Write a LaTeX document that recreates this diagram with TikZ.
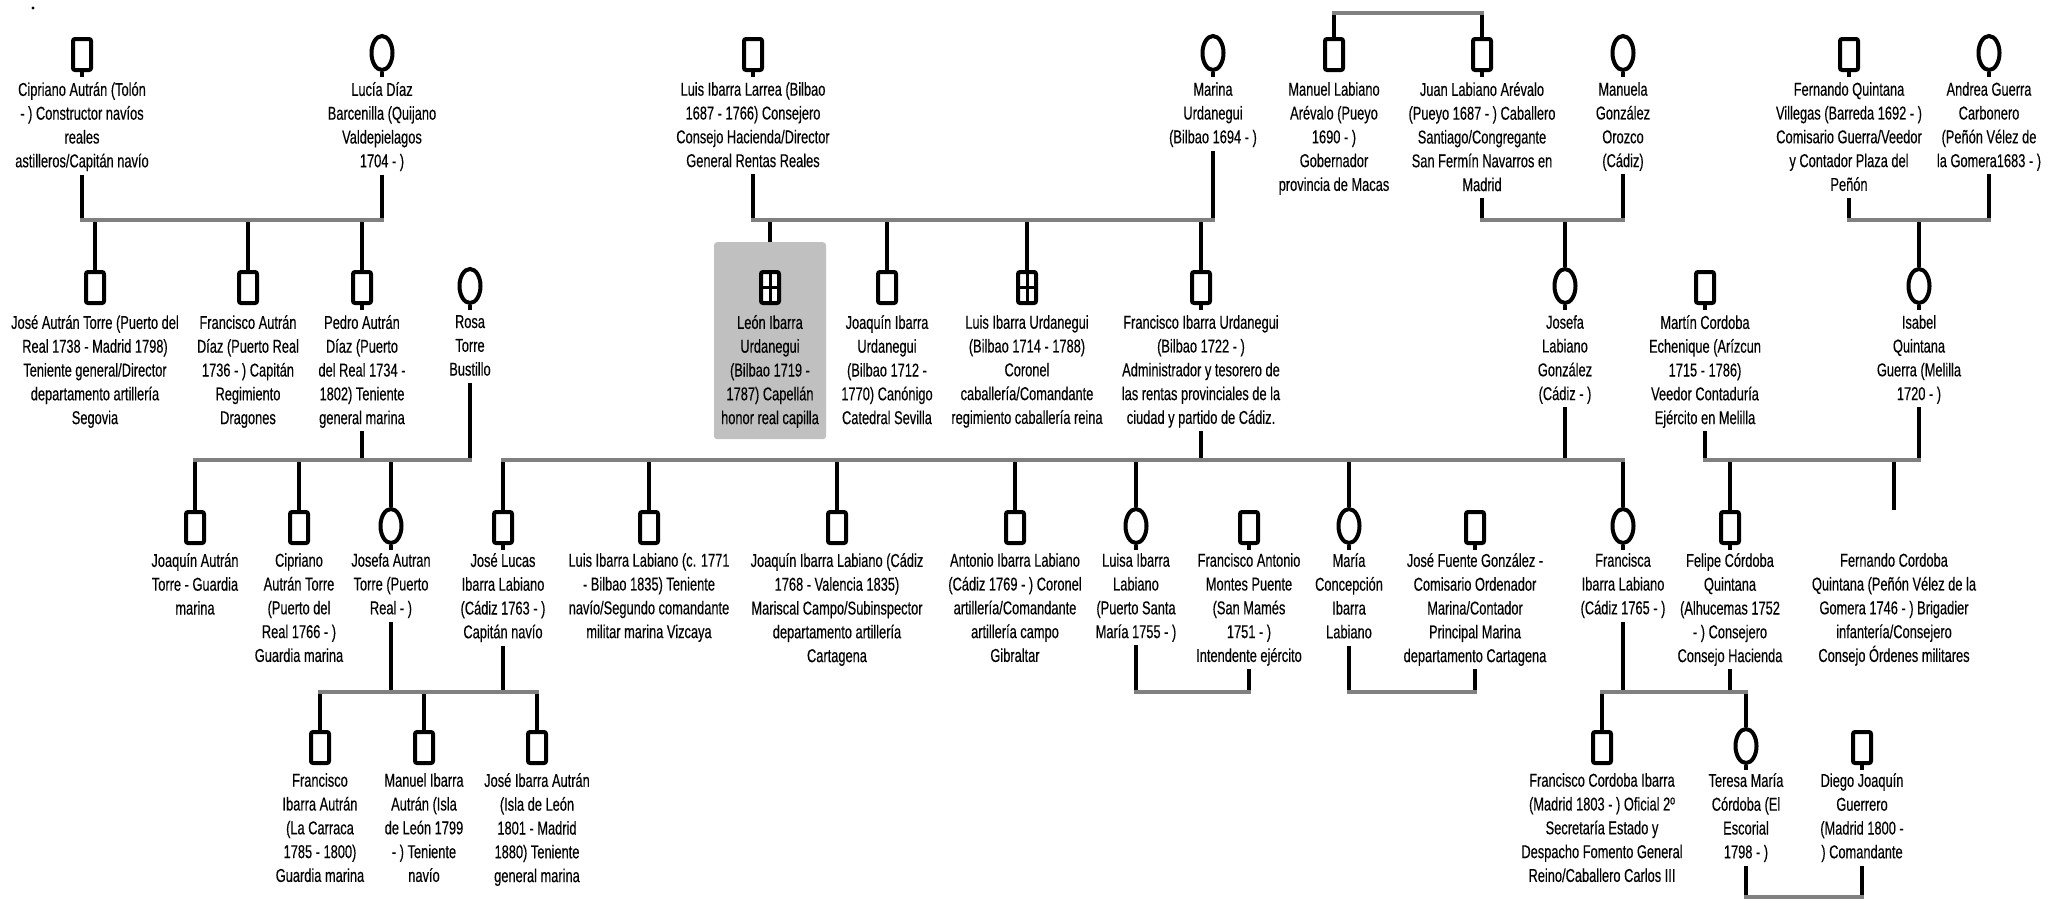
\documentclass[tikz,border=0pt]{standalone}
\usepackage{fontspec}
\setmainfont{Liberation Sans}[FakeStretch=0.69,FakeBold=0.3]
\usetikzlibrary{shapes.geometric}
\definecolor{bargray}{HTML}{808080}
\definecolor{boxgray}{HTML}{C0C0C0}
\newcommand\genfont{\fontsize{18.6}{23.8}\selectfont}
% #1 name, #2 symbol style, #3 x, #4 symbol bottom, #5 text top, #6 text
\newcommand\person[6]{%
  \node[#2] (#1) at (#3,#4) {};
  \node[ptext] (#1t) at (#3,#5) {#6};}
\newcommand\stem[1]{\draw[link] (#1.south) -- ++(0,5);}
\begin{document}
\begin{tikzpicture}[x=1pt,y=-1pt,
  sym/.style={draw=black, line width=4pt, inner sep=0pt, anchor=south, fill=white},
  male/.style={sym, rectangle, rounded corners=2pt, minimum width=18pt, minimum height=31pt},
  female/.style={sym, ellipse, minimum width=21pt, minimum height=34pt},
  unknown/.style={male, path picture={\draw[line width=3pt]
      (path picture bounding box.north) -- (path picture bounding box.south)
      (path picture bounding box.west) -- (path picture bounding box.east);}},
  ptext/.style={font=\genfont, align=center, inner sep=0pt, anchor=north,
      execute at begin node=\strut, execute at end node=\strut},
  link/.style={line width=3.6pt, draw=black},
  famline/.style={line width=4pt, draw=bargray, line cap=rect}]
\useasboundingbox (0,0) rectangle (2049,900);
\fill (33,8) circle (1.6);

% levels of the family lines
\coordinate (yT) at (0,13);
\coordinate (yA) at (0,220);
\coordinate (yB) at (0,460);
\coordinate (yC) at (0,692);
\coordinate (yD) at (0,897);

% highlighted person
\node[fill=boxgray, rounded corners=3pt, minimum width=112pt, minimum height=197pt,
      inner sep=0pt, anchor=north] (leonbox) at (770,242) {};

% ---------- generation 1 ----------
\person{cip}{male}{82}{72}{82}{Cipriano Autrán (Tolón\\- ) Constructor navíos\\reales\\astilleros/Capitán navío}
\person{luc}{female}{382}{72}{82}{Lucía Díaz\\Barcenilla (Quijano\\Valdepielagos\\1704 - )}
\person{lil}{male}{753}{72}{82}{Luis Ibarra Larrea (Bilbao\\1687 - 1766) Consejero\\Consejo Hacienda/Director\\General Rentas Reales}
\person{mar}{female}{1213}{72}{82}{Marina\\Urdanegui\\(Bilbao 1694 - )}
\person{man}{male}{1334}{72}{82}{Manuel Labiano\\Arévalo (Pueyo\\1690 - )\\Gobernador\\provincia de Macas}
\person{jua}{male}{1482}{72}{82}{Juan Labiano Arévalo\\(Pueyo 1687 - ) Caballero\\Santiago/Congregante\\San Fermín Navarros en\\Madrid}
\person{mgo}{female}{1623}{72}{82}{Manuela\\González\\Orozco\\(Cádiz)}
\person{fqv}{male}{1849}{72}{82}{Fernando Quintana\\Villegas (Barreda 1692 - )\\Comisario Guerra/Veedor\\y Contador Plaza del\\Peñón}
\person{agc}{female}{1989}{72}{82}{Andrea Guerra\\Carbonero\\(Peñón Vélez de\\la Gomera1683 - )}

% ---------- generation 2 ----------
\person{jat}{male}{95}{305}{315}{José Autrán Torre (Puerto del\\Real 1738 - Madrid 1798)\\Teniente general/Director\\departamento artillería\\Segovia}
\person{fad}{male}{248}{305}{315}{Francisco Autrán\\Díaz (Puerto Real\\1736 - ) Capitán\\Regimiento\\Dragones}
\person{pad}{male}{362}{305}{315}{Pedro Autrán\\Díaz (Puerto\\del Real 1734 -\\1802) Teniente\\general marina}
\person{rtb}{female}{470}{305}{315}{Rosa\\Torre\\Bustillo}
\person{leo}{unknown}{770}{305}{315}{León Ibarra\\Urdanegui\\(Bilbao 1719 -\\1787) Capellán\\honor real capilla}
\person{jiu}{male}{887}{305}{315}{Joaquín Ibarra\\Urdanegui\\(Bilbao 1712 -\\1770) Canónigo\\Catedral Sevilla}
\person{liu}{unknown}{1027}{305}{315}{Luis Ibarra Urdanegui\\(Bilbao 1714 - 1788)\\Coronel\\caballería/Comandante\\regimiento caballería reina}
\person{fiu}{male}{1201}{305}{315}{Francisco Ibarra Urdanegui\\(Bilbao 1722 - )\\Administrador y tesorero de\\las rentas provinciales de la\\ciudad y partido de Cádiz.}
\person{jlg}{female}{1565}{305}{315}{Josefa\\Labiano\\González\\(Cádiz - )}
\person{mce}{male}{1705}{305}{315}{Martín Cordoba\\Echenique (Arízcun\\1715 - 1786)\\Veedor Contaduría\\Ejército en Melilla}
\person{iqg}{female}{1919}{305}{315}{Isabel\\Quintana\\Guerra (Melilla\\1720 - )}

% ---------- generation 3 ----------
\person{jaq}{male}{195}{545}{553}{Joaquín Autrán\\Torre - Guardia\\marina}
\person{cat}{male}{299}{545}{553}{Cipriano\\Autrán Torre\\(Puerto del\\Real 1766 - )\\Guardia marina}
\person{jos}{female}{391}{545}{553}{Josefa Autran\\Torre (Puerto\\Real - )}
\person{jlu}{male}{503}{545}{553}{José Lucas\\Ibarra Labiano\\(Cádiz 1763 - )\\Capitán navío}
\person{lib}{male}{649}{545}{553}{Luis Ibarra Labiano (c. 1771\\- Bilbao 1835) Teniente\\navío/Segundo comandante\\militar marina Vizcaya}
\person{jil}{male}{837}{545}{553}{Joaquín Ibarra Labiano (Cádiz\\1768 - Valencia 1835)\\Mariscal Campo/Subinspector\\departamento artillería\\Cartagena}
\person{ail}{male}{1015}{545}{553}{Antonio Ibarra Labiano\\(Cádiz 1769 - ) Coronel\\artillería/Comandante\\artillería campo\\Gibraltar}
\person{lui}{female}{1136}{545}{553}{Luisa Ibarra\\Labiano\\(Puerto Santa\\María 1755 - )}
\person{fam}{male}{1249}{545}{553}{Francisco Antonio\\Montes Puente\\(San Mamés\\1751 - )\\Intendente ejército}
\person{mci}{female}{1349}{545}{553}{María\\Concepción\\Ibarra\\Labiano}
\person{jfg}{male}{1475}{545}{553}{José Fuente González -\\Comisario Ordenador\\Marina/Contador\\Principal Marina\\departamento Cartagena}
\person{fil}{female}{1623}{545}{553}{Francisca\\Ibarra Labiano\\(Cádiz 1765 - )}
\person{fcq}{male}{1730}{545}{553}{Felipe Córdoba\\Quintana\\(Alhucemas 1752\\- ) Consejero\\Consejo Hacienda}
\coordinate (fco) at (1894,510);
\node[ptext] (fcot) at (1894,553) {Fernando Cordoba\\Quintana (Peñón Vélez de la\\Gomera 1746 - ) Brigadier\\infantería/Consejero\\Consejo Órdenes militares};

% ---------- generation 4 ----------
\person{fia}{male}{320}{765}{773}{Francisco\\Ibarra Autrán\\(La Carraca\\1785 - 1800)\\Guardia marina}
\person{mia}{male}{424}{765}{773}{Manuel Ibarra\\Autrán (Isla\\de León 1799\\- ) Teniente\\navío}
\person{jia}{male}{537}{765}{773}{José Ibarra Autrán\\(Isla de León\\1801 - Madrid\\1880) Teniente\\general marina}
\person{fci}{male}{1602}{765}{773}{Francisco Cordoba Ibarra\\(Madrid 1803 - ) Oficial 2º\\Secretaría Estado y\\Despacho Fomento General\\Reino/Caballero Carlos III}
\person{tmc}{female}{1746}{765}{773}{Teresa María\\Córdoba (El\\Escorial\\1798 - )}
\person{djg}{male}{1862}{765}{773}{Diego Joaquín\\Guerrero\\(Madrid 1800 -\\) Comandante}

% stems below the symbols of people with a line of descent
\foreach \p in {cip,luc,lil,mar,jua,mgo,fqv,agc,pad,rtb,fiu,jlg,mce,iqg,
                jos,jlu,lui,fam,mci,jfg,fil,fcq,tmc,djg}{\stem{\p}}

% lines from parents down to the family lines
\foreach \p in {cip,luc,lil,mar,jua,mgo,fqv,agc}{\draw[link] (\p t.south) -- (\p t.south |- yA);}
\foreach \p in {pad,rtb,fiu,jlg,mce,iqg}{\draw[link] (\p t.south) -- (\p t.south |- yB);}
\foreach \p in {jos,jlu,lui,fam,mci,jfg,fil,fcq}{\draw[link] (\p t.south) -- (\p t.south |- yC);}
\foreach \p in {tmc,djg}{\draw[link] (\p t.south) -- (\p t.south |- yD);}

% lines from the family lines down to the children
\foreach \c in {jat,fad,pad,jiu,liu,fiu,jlg,iqg}{\draw[link] (\c |- yA) -- (\c.north);}
\draw[link] (leonbox |- yA) -- (leonbox.north);
\foreach \c in {man,jua}{\draw[link] (\c |- yT) -- (\c.north);}
\foreach \c in {jaq,cat,jos,jlu,lib,jil,ail,lui,mci,fil,fcq}{\draw[link] (\c |- yB) -- (\c.north);}
\draw[link] (fco |- yB) -- (fco);
\foreach \c in {fia,mia,jia,fci,tmc}{\draw[link] (\c |- yC) -- (\c.north);}

% family lines
\draw[famline] (cipt.south |- yA) -- (luct.south |- yA);
\draw[famline] (lilt.south |- yA) -- (mart.south |- yA);
\draw[famline] (man |- yT) -- (jua |- yT);
\draw[famline] (juat.south |- yA) -- (mgot.south |- yA);
\draw[famline] (fqvt.south |- yA) -- (agct.south |- yA);
\draw[famline] (jaq |- yB) -- (rtbt.south |- yB);
\draw[famline] (jlu |- yB) -- (fil |- yB);
\draw[famline] (mcet.south |- yB) -- (iqgt.south |- yB);
\draw[famline] (fia |- yC) -- (jia |- yC);
\draw[famline] (luit.south |- yC) -- (famt.south |- yC);
\draw[famline] (mcit.south |- yC) -- (jfgt.south |- yC);
\draw[famline] (fci |- yC) -- (tmc |- yC);
\draw[famline] (tmct.south |- yD) -- (djgt.south |- yD);
\end{tikzpicture}
\end{document}
